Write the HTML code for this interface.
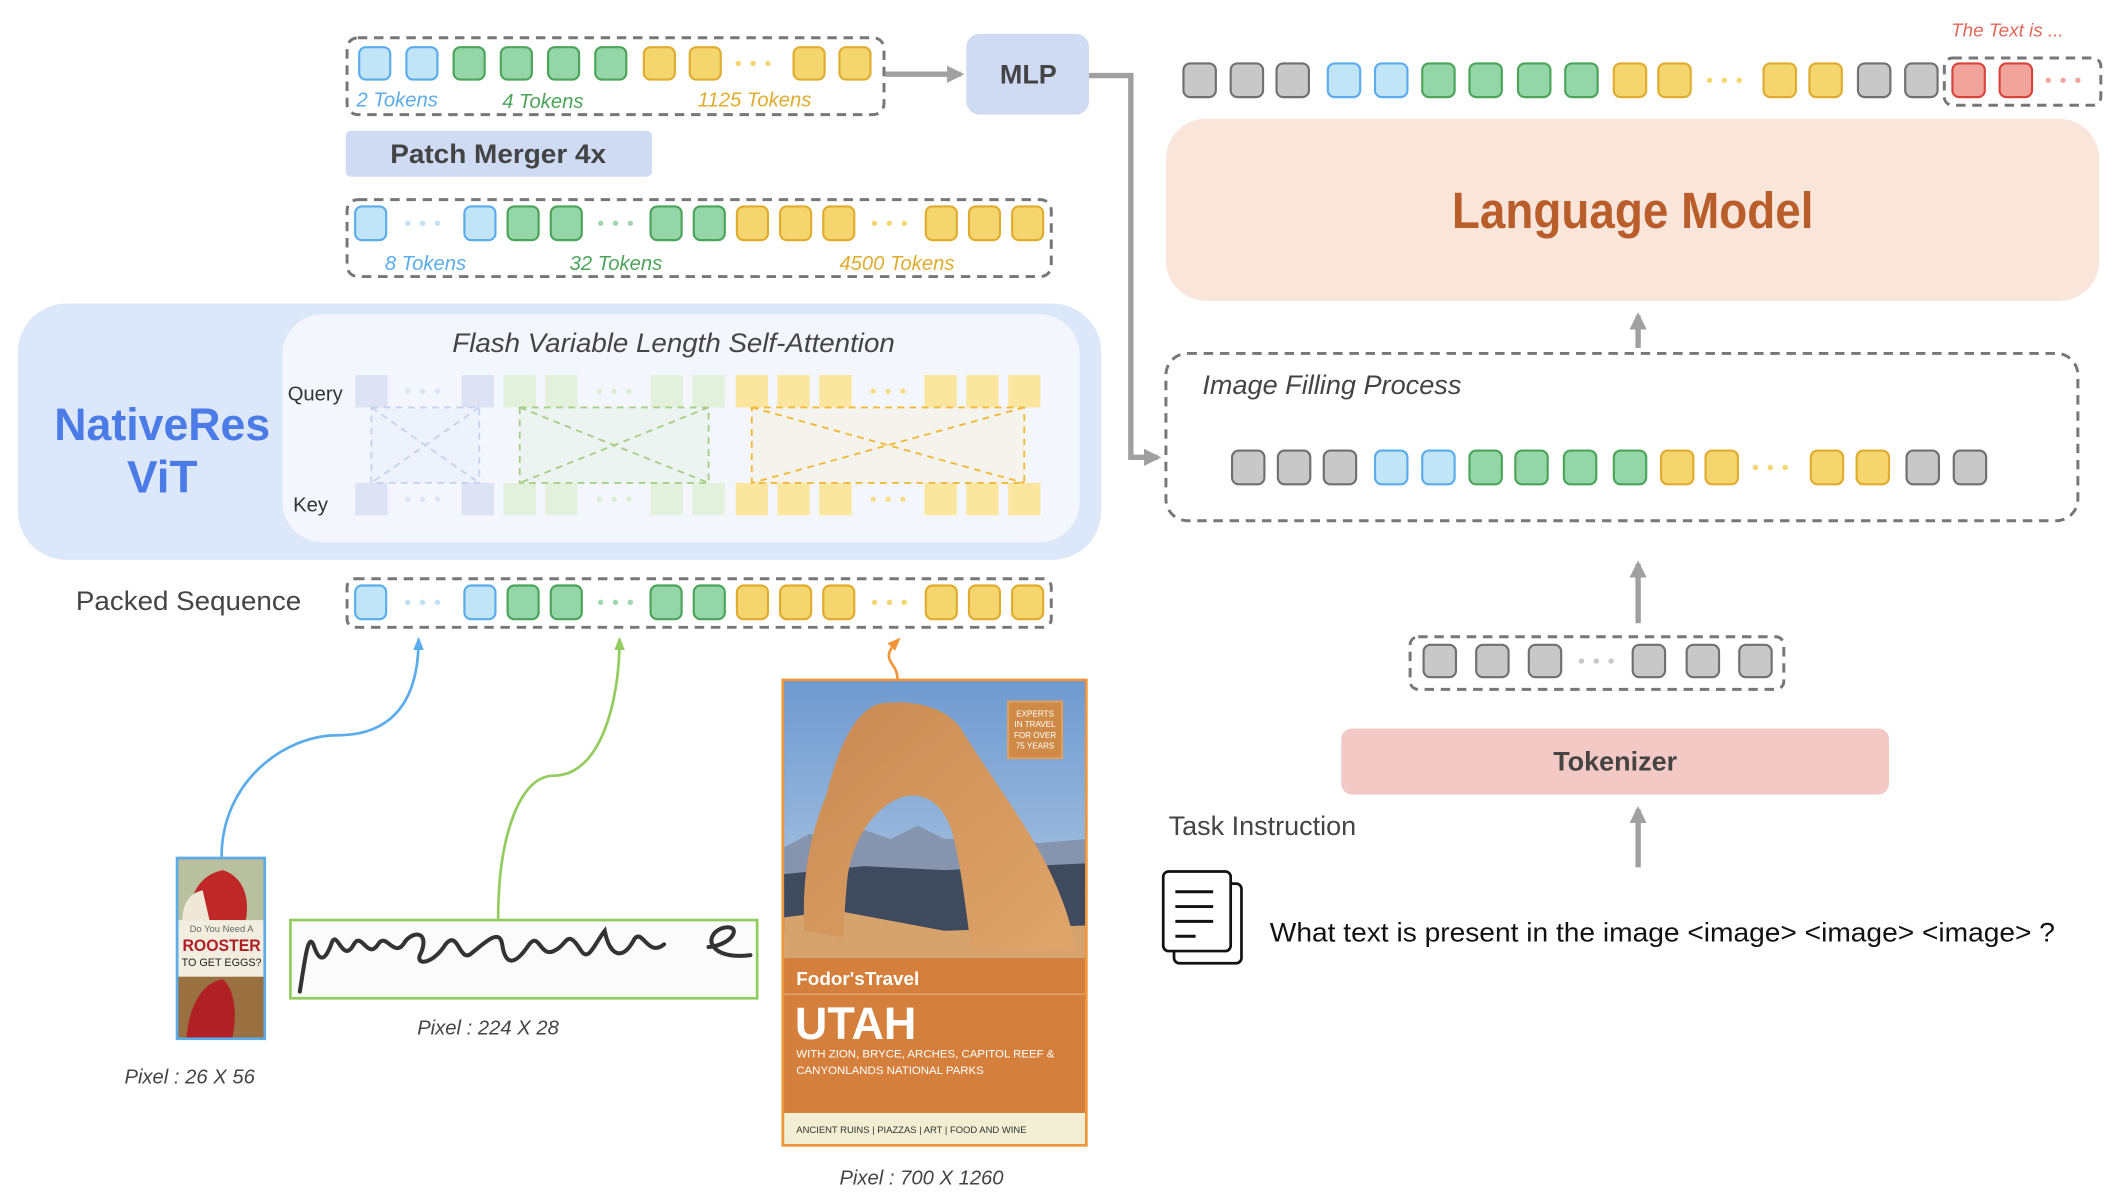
<!DOCTYPE html>
<html><head><meta charset="utf-8">
<style>
html,body{margin:0;padding:0;background:#fff;}
svg{display:block;}
text{font-family:"Liberation Sans",sans-serif;}
</style></head>
<body>
<svg id="s" xmlns="http://www.w3.org/2000/svg" width="2116" height="1202" viewBox="0 0 1568 891">
<defs>
<marker id="ag" viewBox="0 0 10 10" refX="8" refY="5" markerWidth="3.2" markerHeight="3.2" orient="auto"><path d="M0,0 L10,5 L0,10 z" fill="#a0a0a0"/></marker>
<marker id="ab" viewBox="0 0 10 10" refX="8" refY="5" markerWidth="5" markerHeight="5" orient="auto"><path d="M0,1 L10,5 L0,9 z" fill="#5aacea"/></marker>
<marker id="agr" viewBox="0 0 10 10" refX="8" refY="5" markerWidth="5" markerHeight="5" orient="auto"><path d="M0,1 L10,5 L0,9 z" fill="#92cc5e"/></marker>
<marker id="ao" viewBox="0 0 10 10" refX="8" refY="5" markerWidth="5" markerHeight="5" orient="auto"><path d="M0,1 L10,5 L0,9 z" fill="#f0963a"/></marker>
<linearGradient id="sky" x1="0" y1="0" x2="0" y2="1">
<stop offset="0" stop-color="#6f9ad0"/><stop offset="1" stop-color="#b4cbe4"/></linearGradient>
<linearGradient id="rock" x1="0" y1="0" x2="1" y2="1"><stop offset="0" stop-color="#c98a52"/><stop offset="1" stop-color="#dfa56a"/></linearGradient>
</defs>

<!-- top token box -->
<rect x="257" y="28" width="398" height="57" rx="8" fill="none" stroke="#777" stroke-width="2.2" stroke-dasharray="7,5"/>
<text x="264" y="79" font-size="15" font-style="italic" fill="#5aacea">2 Tokens</text>
<text x="372" y="80" font-size="15" font-style="italic" fill="#4ca35a">4 Tokens</text>
<text x="517" y="79" font-size="15" font-style="italic" fill="#e0ac30">1125 Tokens</text>
<line x1="656" y1="55" x2="712" y2="55" stroke="#a0a0a0" stroke-width="4" marker-end="url(#ag)"/>
<rect x="716" y="25" width="91" height="60" rx="10" fill="#cfdaf3"/>
<text x="762" y="62" font-size="20" font-weight="bold" fill="#444" text-anchor="middle">MLP</text>
<path d="M807,56 L838,56 L838,339 L858,339" fill="none" stroke="#a0a0a0" stroke-width="4" marker-end="url(#ag)"/>

<rect x="256" y="97" width="227" height="34" rx="4" fill="#cfdaf3"/>
<text x="369" y="121" font-size="20" font-weight="bold" fill="#444" text-anchor="middle" textLength="160" lengthAdjust="spacingAndGlyphs">Patch Merger 4x</text>

<rect x="257" y="148" width="522" height="57" rx="8" fill="none" stroke="#777" stroke-width="2.2" stroke-dasharray="7,5"/>
<text x="285" y="200" font-size="15" font-style="italic" fill="#5aacea">8 Tokens</text>
<text x="422" y="200" font-size="15" font-style="italic" fill="#4ca35a">32 Tokens</text>
<text x="622" y="200" font-size="15" font-style="italic" fill="#e0ac30">4500 Tokens</text>

<!-- ViT -->
<rect x="13" y="225" width="803" height="190" rx="36" fill="#dce7fa"/>
<rect x="209" y="233" width="591" height="169" rx="30" fill="#f3f7fd"/>
<text x="120" y="326" font-size="34" font-weight="bold" fill="#4a7be6" text-anchor="middle" textLength="160" lengthAdjust="spacingAndGlyphs">NativeRes</text>
<text x="120" y="365" font-size="34" font-weight="bold" fill="#4a7be6" text-anchor="middle">ViT</text>
<text x="499" y="261" font-size="20" font-style="italic" fill="#444" text-anchor="middle" textLength="328" lengthAdjust="spacingAndGlyphs">Flash Variable Length Self-Attention</text>
<text x="213" y="297" font-size="15" fill="#333">Query</text>
<text x="217" y="379" font-size="15" fill="#333">Key</text>
<g id="att"></g>
<g fill-opacity="0.35" stroke-dasharray="5,4" stroke-width="1.4">
<path d="M275,302 L355,302 L355,358 L275,358 Z M275,302 L355,358 M355,302 L275,358" fill="#e3e9f8" stroke="#c7d3ee"/>
<path d="M385,302 L525,302 L525,358 L385,358 Z M385,302 L525,358 M525,302 L385,358" fill="#e2ecd8" stroke="#a8cf88"/>
<path d="M557,302 L759,302 L759,358 L557,358 Z M557,302 L759,358 M759,302 L557,358" fill="#f6ebcd" stroke="#f3b93a"/>
</g>

<text x="56" y="452" font-size="20" fill="#444" textLength="167" lengthAdjust="spacingAndGlyphs">Packed  Sequence</text>
<rect x="257" y="429" width="522" height="36" rx="6" fill="none" stroke="#777" stroke-width="2.2" stroke-dasharray="7,5"/>

<!-- curves -->
<path d="M164,635 C164,580 210,545 250,545 C290,545 310,520 310,474" fill="none" stroke="#5aacea" stroke-width="2" marker-end="url(#ab)"/>
<path d="M369,681 C369,620 385,575 410,575 C445,575 459,520 459,474" fill="none" stroke="#92cc5e" stroke-width="2" marker-end="url(#agr)"/>
<path d="M665,503 C665,490 650,490 666,474" fill="none" stroke="#f0963a" stroke-width="2" marker-end="url(#ao)"/>

<!-- rooster -->
<rect x="131" y="636" width="65" height="134" fill="#8a6a40" stroke="#5aacea" stroke-width="2"/>
<rect x="132" y="637" width="63" height="45" fill="#b8c0a0"/>
<path d="M140,682 C140,660 150,648 165,645 C180,650 185,665 182,682 Z" fill="#c02828"/>
<path d="M135,682 C135,670 140,662 150,660 L155,682 Z" fill="#efe8d8"/>
<rect x="132" y="724" width="63" height="45" fill="#9a7040"/>
<path d="M138,769 C140,745 150,728 165,726 C175,735 175,755 172,769 Z" fill="#b02024"/>
<rect x="132" y="682" width="63" height="42" fill="#f1eee0"/>
<text x="164" y="691" font-size="7" fill="#666" text-anchor="middle">Do You Need A</text>
<text x="164" y="705" font-size="12" font-weight="bold" fill="#b01e23" text-anchor="middle" textLength="58" lengthAdjust="spacingAndGlyphs">ROOSTER</text>
<text x="164" y="716" font-size="8" fill="#222" text-anchor="middle">TO GET EGGS?</text>
<text x="92" y="803" font-size="15" font-style="italic" fill="#444">Pixel : 26  X 56</text>

<!-- handwriting -->
<rect x="215" y="682" width="346" height="58" fill="#fbfbfb" stroke="#92cc5e" stroke-width="2"/>
<path d="M222,735 C226,710 228,692 232,700 C236,712 240,715 246,698 C250,690 254,715 262,700 C268,690 272,712 280,700 C286,690 292,712 300,698 C306,690 318,690 312,706 C306,716 320,716 330,700 C340,688 340,716 350,706 C360,698 370,688 372,700 C374,714 380,718 392,700 C400,690 400,712 412,704 C420,700 420,688 430,704 C436,714 440,700 448,690 C452,710 462,712 470,696 C476,688 480,710 492,700 M525,702 C545,700 550,684 535,688 C520,694 526,712 556,708" fill="none" stroke="#333" stroke-width="3" stroke-linecap="round"/>
<text x="309" y="767" font-size="15" font-style="italic" fill="#444">Pixel : 224  X 28</text>

<!-- utah -->
<rect x="580" y="504" width="225" height="345" fill="#d4803c" stroke="#f0963a" stroke-width="2"/>
<rect x="581" y="505" width="223" height="205" fill="url(#sky)"/>
<path d="M581,628 L600,618 L615,624 L640,615 L660,622 L680,612 L700,622 L740,620 L770,625 L804,622 L804,660 L581,660 Z" fill="#8694ad"/>
<path d="M581,648 L640,642 L700,645 L804,640 L804,690 L581,690 Z" fill="#3f4a5e"/>
<path d="M581,680 L620,675 L700,690 L804,686 L804,710 L581,710 Z" fill="#d6a36c"/>
<path d="M596,690 C594,650 600,620 612,590 C620,560 630,530 650,522 C670,518 700,522 712,540 C730,570 760,610 775,640 C790,670 795,690 797,705 L720,705 C715,670 712,640 705,615 C698,595 685,588 672,590 C650,595 632,620 628,650 C626,670 625,690 625,695 Z" fill="url(#rock)"/>
<rect x="747" y="520" width="40" height="42" fill="#d08a48" stroke="#e0a060" stroke-width="1.5"/>
<text x="767" y="531" font-size="6" fill="#fff" text-anchor="middle">EXPERTS</text>
<text x="767" y="539" font-size="6" fill="#fff" text-anchor="middle">IN TRAVEL</text>
<text x="767" y="547" font-size="6" fill="#fff" text-anchor="middle">FOR OVER</text>
<text x="767" y="555" font-size="6" fill="#fff" text-anchor="middle">75 YEARS</text>
<text x="590" y="730" font-size="14" font-weight="bold" fill="#fff">Fodor'sTravel</text>
<line x1="581" y1="737" x2="804" y2="737" stroke="#e6a870" stroke-width="1"/>
<text x="589" y="770" font-size="34" font-weight="bold" fill="#fff" textLength="90" lengthAdjust="spacingAndGlyphs">UTAH</text>
<text x="590" y="784" font-size="8.5" fill="#fff">WITH ZION, BRYCE, ARCHES, CAPITOL REEF &amp;</text>
<text x="590" y="796" font-size="8.5" fill="#fff">CANYONLANDS NATIONAL PARKS</text>
<rect x="581" y="825" width="223" height="23" fill="#f1eed3"/>
<text x="590" y="840" font-size="7" fill="#333">ANCIENT RUINS | PIAZZAS | ART | FOOD AND WINE</text>
<text x="622" y="878" font-size="15" font-style="italic" fill="#444">Pixel : 700  X 1260</text>

<!-- right side -->
<text x="1446" y="27" font-size="14" font-style="italic" fill="#e0685a">The Text is ...</text>
<rect x="1441" y="43" width="116" height="35" rx="6" fill="none" stroke="#777" stroke-width="2.2" stroke-dasharray="7,5"/>
<rect x="864" y="88" width="692" height="135" rx="30" fill="#f9e5da"/>
<text x="1210" y="169" font-size="38" font-weight="bold" fill="#b95d2a" text-anchor="middle" textLength="268" lengthAdjust="spacingAndGlyphs">Language Model</text>
<line x1="1214" y1="258" x2="1214" y2="234" stroke="#a0a0a0" stroke-width="4" marker-end="url(#ag)"/>
<rect x="864" y="262" width="676" height="124" rx="16" fill="none" stroke="#777" stroke-width="2.2" stroke-dasharray="7,5"/>
<text x="891" y="292" font-size="20" font-style="italic" fill="#444" textLength="192" lengthAdjust="spacingAndGlyphs">Image Filling Process</text>
<line x1="1214" y1="462" x2="1214" y2="418" stroke="#a0a0a0" stroke-width="4" marker-end="url(#ag)"/>
<rect x="1045" y="472" width="277" height="39" rx="6" fill="none" stroke="#777" stroke-width="2.2" stroke-dasharray="7,5"/>
<rect x="994" y="540" width="406" height="49" rx="8" fill="#f2c9c4"/>
<text x="1197" y="571" font-size="20" font-weight="bold" fill="#444" text-anchor="middle">Tokenizer</text>
<line x1="1214" y1="643" x2="1214" y2="600" stroke="#a0a0a0" stroke-width="4" marker-end="url(#ag)"/>
<text x="866" y="619" font-size="20" fill="#444" textLength="139" lengthAdjust="spacingAndGlyphs">Task Instruction</text>
<rect x="870" y="655" width="50" height="59" rx="4" fill="#fff" stroke="#111" stroke-width="2"/>
<rect x="862" y="646" width="50" height="59" rx="4" fill="#fff" stroke="#111" stroke-width="2"/>
<g stroke="#111" stroke-width="2.2"><line x1="871" y1="661" x2="899" y2="661"/><line x1="871" y1="672" x2="899" y2="672"/><line x1="871" y1="683" x2="899" y2="683"/><line x1="871" y1="694" x2="886" y2="694"/></g>
<text x="941" y="698" font-size="20" fill="#111" textLength="582" lengthAdjust="spacingAndGlyphs">What text is present in the image &lt;image&gt; &lt;image&gt; &lt;image&gt; ?</text>
<g id="tok"></g>
</svg>
<script>
var S={b:["#c2e4f7","#5aacea"],g:["#95d6a8","#4ca35a"],y:["#f5d56e","#e0ac30"],k:["#c8c8c8","#707070"],r:["#f0a49c","#d9443a"]};
var DC={b:"#bfe0f5",g:"#9fd6ae",y:"#f5d56e",k:"#c8c8c8",r:"#f0a49c"};
var NS="http://www.w3.org/2000/svg",G=document.getElementById("tok"),A=document.getElementById("att");
function el(n,a,p){var e=document.createElementNS(NS,n);for(var k in a)e.setAttribute(k,a[k]);(p||G).appendChild(e);return e;}
function row(spec,y,w,h){spec.forEach(function(s){var c=s[1],x=s[0];
 if(s[2]=="d"){for(var i=0;i<3;i++)el("circle",{cx:x+i*11,cy:y+h/2,r:2,fill:DC[c]});}
 else el("rect",{x:x,y:y,width:w,height:h,rx:5,fill:S[c][0],stroke:S[c][1],"stroke-width":1.6});});}
row([[266,"b"],[301,"b"],[336,"g"],[371,"g"],[406,"g"],[441,"g"],[477,"y"],[511,"y"],[547,"y","d"],[588,"y"],[622,"y"]],35,23,24);
var L=[[263,"b"],[302,"b","d"],[344,"b"],[376,"g"],[408,"g"],[445,"g","d"],[482,"g"],[514,"g"],[546,"y"],[578,"y"],[610,"y"],[648,"y","d"],[686,"y"],[718,"y"],[750,"y"]];
row(L,153,23,25);row(L,434,23,25);
row([[877,"k"],[912,"k"],[946,"k"],[984,"b"],[1019,"b"],[1054,"g"],[1089,"g"],[1125,"g"],[1160,"g"],[1196,"y"],[1229,"y"],[1267,"y","d"],[1307,"y"],[1341,"y"],[1377,"k"],[1412,"k"],[1447,"r"],[1482,"r"],[1518,"r","d"]],47,24,25);
row([[913,"k"],[947,"k"],[981,"k"],[1019,"b"],[1054,"b"],[1089,"g"],[1123,"g"],[1159,"g"],[1196,"g"],[1231,"y"],[1264,"y"],[1301,"y","d"],[1342,"y"],[1376,"y"],[1413,"k"],[1448,"k"]],334,24,25);
row([[1055,"k"],[1094,"k"],[1133,"k"],[1172,"k","d"],[1210,"k"],[1250,"k"],[1289,"k"]],478,24,24);
var Q=[[263,"l"],[302,"l","d"],[342,"l"],[373,"g"],[404,"g"],[444,"g","d"],[482,"g"],[513,"g"],[545,"y"],[576,"y"],[607,"y"],[647,"y","d"],[685,"y"],[716,"y"],[747,"y"]];
var QC={l:"#dde3f4",g:"#e3f0dc",y:"#fbe6a0"},QD={l:"#dde3f4",g:"#dcebd2",y:"#f8dc88"};
[278,358].forEach(function(y){Q.forEach(function(s){if(s[2]=="d"){for(var i=0;i<3;i++)el("circle",{cx:s[0]+i*11,cy:y+12,r:2,fill:QD[s[1]]},A);}else el("rect",{x:s[0],y:y,width:24,height:24,fill:QC[s[1]]},A);});});
</script>
</body></html>
